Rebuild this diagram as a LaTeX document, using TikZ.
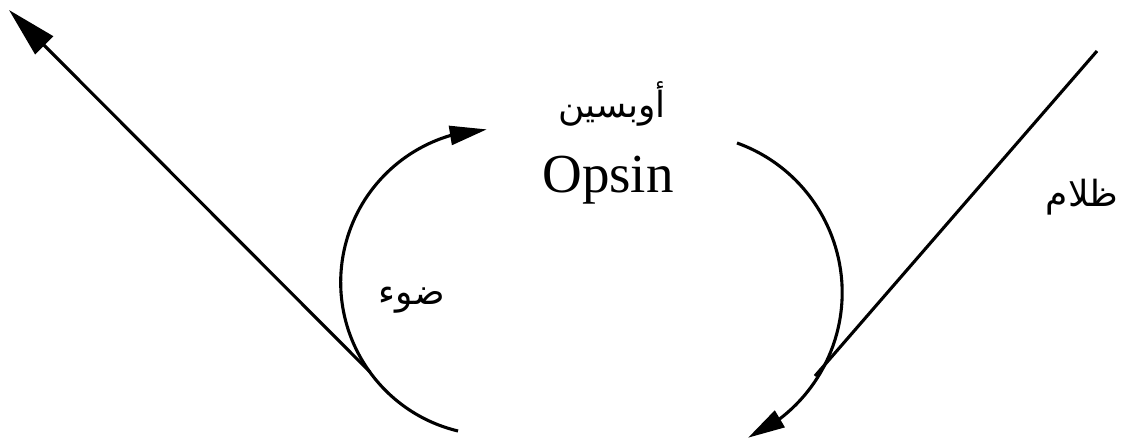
\documentclass[tikz,border=0pt]{standalone}
\usepackage{fontspec}
\setmainfont{Liberation Serif}
\newfontfamily\arabicfont[Script=Arabic]{DejaVu Sans}
\TeXXeTstate=1
\usetikzlibrary{arrows.meta,bending}
\begin{document}
\begin{tikzpicture}[x=1pt,y=1pt,
  line/.style={line width=3.1pt},
  bigtip/.style={-{Triangle[length=50pt,width=25pt]}},
  arctip/.style={-{Triangle[length=37pt,width=19pt]}},
  ar/.style={font=\arabicfont\fontsize{36}{42}\selectfont, inner sep=0pt}]
\useasboundingbox (0,0) rectangle (1122,-446);
% texts
\node[ar] (opsinar) at (612,-104) {\beginR أوبسين\endR};
\node[font=\fontsize{55}{60}\selectfont, inner sep=0pt, anchor=base] (opsin) at (608,-193) {Opsin};
\node[ar] (light) at (412,-300) {\beginR ضوء\endR};
\node[ar] (dark) at (1082,-197) {\beginR ظلام\endR};
% long arrow / line
\coordinate (lstart) at (370,-372);
\coordinate (ltip) at (9,-10);
\draw[line,bigtip] (lstart) -- (ltip);
\coordinate (rtop) at (1097,-51);
\coordinate (rend) at (815,-376);
\draw[line] (rtop) -- (rend);
% arcs
\coordinate (la) at (458,-431);
\draw[line,arctip] (la) arc[start angle=256.5, end angle=92.6, radius=153];
\coordinate (ra) at (737,-143);
\draw[line,arctip] (ra) arc[start angle=70.2, end angle=-65.9, radius=159];
\end{tikzpicture}
\end{document}
